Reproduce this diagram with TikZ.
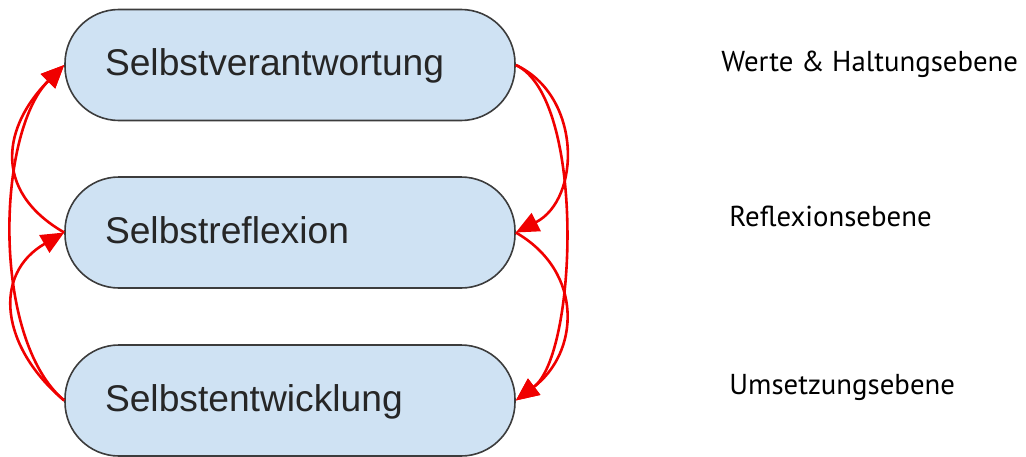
\documentclass[tikz,border=0pt]{standalone}
\usepackage{fontspec}
\setmainfont{Liberation Sans}
\newfontfamily\lvlfont{PT Sans}
\usepackage{xcolor}
\usetikzlibrary{arrows.meta}
\definecolor{boxblue}{HTML}{CFE2F3}
\definecolor{boxline}{HTML}{3C3C3C}
\definecolor{arrred}{HTML}{F00000}
\newcommand{\boxtxt}[1]{\makebox[185pt][l]{#1}}

\begin{document}
\begin{tikzpicture}[x=0.5pt,y=0.5pt,
  every node/.style={font=\fontsize{18.6pt}{20pt}\selectfont},
  bx/.style={draw=boxline,line width=0.8pt,fill=boxblue,rounded corners=27pt,
    minimum height=55.5pt,inner xsep=20pt,
    text height=1.05em,text depth=0em,text=black!85},
  lvl/.style={anchor=base west,inner sep=0pt,font=\lvlfont\fontsize{14.4pt}{18pt}\selectfont},
  conn/.style={draw=arrred,line width=1.3pt,-{Triangle[length=11.5pt,width=10pt]}}]
 \useasboundingbox (0,0) rectangle (1026,456);
 \node[bx] (top) at (290,391) {\boxtxt{Selbstverantwortung}};
 \node[bx] (mid) at (290,223.5) {\boxtxt{Selbstreflexion}};
 \node[bx] (bot) at (290,55.5) {\boxtxt{Selbstentwicklung}};
 \node[lvl] (lwerte) at (721,384) {Werte \& Haltungsebene};
 \node[lvl] (lrefl) at (729,230) {Reflexionsebene};
 \node[lvl] (lums) at (729,62) {Umsetzungsebene};
 \foreach \a/\b/\o/\i/\l in {mid.west/top.west/150/225/1.3,bot.west/top.west/140/225/0.73,
   bot.west/mid.west/140/210/1.27,top.east/mid.east/-25/27/1.12,
   top.east/bot.east/-25/37/0.59,mid.east/bot.east/-30/37/1.21}
   \draw[conn] (\a) to[out=\o,in=\i,looseness=\l] (\b);
\end{tikzpicture}
\end{document}
